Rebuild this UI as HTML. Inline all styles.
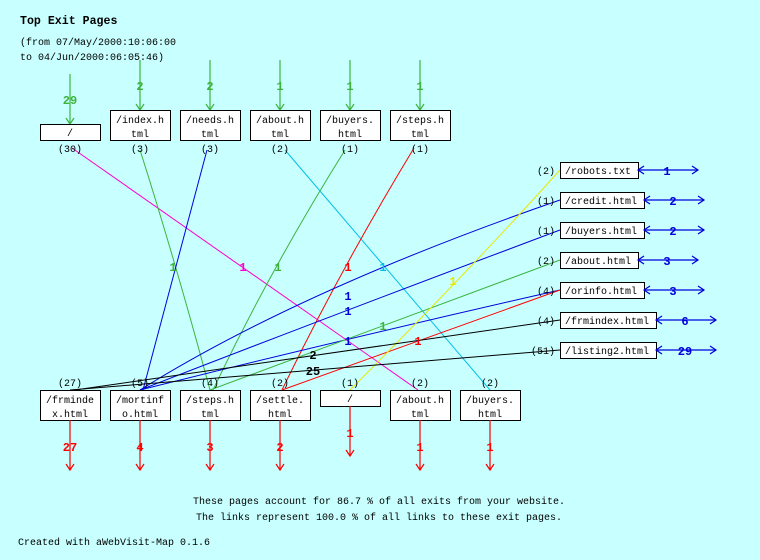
<!DOCTYPE html>
<html><head><meta charset="utf-8"><style>
html,body{margin:0;padding:0;background:#c8ffff}
svg{display:block}
text{font-family:"Liberation Mono","DejaVu Sans Mono",monospace;font-size:10px}
.b{font-weight:bold;font-size:12px}
.t{font-size:11.6px;font-weight:bold}
.box{fill:#fff;stroke:#000;stroke-width:1}
</style></head><body>
<svg width="760" height="560" xmlns="http://www.w3.org/2000/svg">
<rect width="760" height="560" fill="#c8ffff"/>
<text x="20" y="24" class="t">Top Exit Pages</text>
<text x="20" y="45">(from 07/May/2000:10:06:00</text>
<text x="20" y="60">to 04/Jun/2000:06:05:46)</text>

<g stroke="#3cb43c" fill="none" stroke-width="1.2">
<line x1="70" y1="74" x2="70" y2="124"/><polyline points="66,118 70,124 74,118"/>
<line x1="140" y1="60" x2="140" y2="110"/><polyline points="136,104 140,110 144,104"/>
<line x1="210" y1="60" x2="210" y2="110"/><polyline points="206,104 210,110 214,104"/>
<line x1="280" y1="60" x2="280" y2="110"/><polyline points="276,104 280,110 284,104"/>
<line x1="350" y1="60" x2="350" y2="110"/><polyline points="346,104 350,110 354,104"/>
<line x1="420" y1="60" x2="420" y2="110"/><polyline points="416,104 420,110 424,104"/>
</g>
<g fill="#3cb43c" text-anchor="middle">
<text x="70" y="104" class="b">29</text><text x="140" y="90" class="b">2</text><text x="210" y="90" class="b">2</text>
<text x="280" y="90" class="b">1</text><text x="350" y="90" class="b">1</text><text x="420" y="90" class="b">1</text>
</g>

<g fill="none" stroke-width="1">
<line x1="72" y1="148" x2="418" y2="390" stroke="#ff00cc"/>
<path d="M140,150 Q175,260 210,390" stroke="#3cb43c"/>
<path d="M207,150 Q175,270 143,390" stroke="#0000dd"/>
<line x1="285" y1="150" x2="490" y2="390" stroke="#00c0e8"/>
<path d="M345,150 Q270,270 213,390" stroke="#3cb43c"/>
<path d="M414,148 Q340,270 282,390" stroke="#ff0000"/>
<path d="M140,390 Q300,290 560,200" stroke="#0000dd"/>
<path d="M140,390 Q320,320 560,230" stroke="#0000dd"/>
<path d="M140,390 Q340,340 560,290" stroke="#0000dd"/>
<line x1="210" y1="390" x2="560" y2="260" stroke="#3cb43c"/>
<line x1="282" y1="390" x2="560" y2="290" stroke="#ff0000"/>
<path d="M350,390 Q470,270 560,170" stroke="#e8e800"/>
<line x1="75" y1="390" x2="560" y2="320" stroke="#000"/>
<line x1="70" y1="390" x2="560" y2="350" stroke="#000"/>
</g>
<g text-anchor="middle">
<text x="173" y="271" fill="#3cb43c" class="b">1</text>
<text x="243" y="271" fill="#ff00cc" class="b">1</text>
<text x="278" y="271" fill="#3cb43c" class="b">1</text>
<text x="348" y="271" fill="#ff0000" class="b">1</text>
<text x="383" y="271" fill="#00c0e8" class="b">1</text>
<text x="453" y="285" fill="#e8e800" class="b">1</text>
<text x="348" y="300" fill="#0000dd" class="b">1</text>
<text x="348" y="315" fill="#0000dd" class="b">1</text>
<text x="383" y="330" fill="#3cb43c" class="b">1</text>
<text x="348" y="345" fill="#0000dd" class="b">1</text>
<text x="418" y="345" fill="#ff0000" class="b">1</text>
<text x="313" y="359" fill="#000" class="b">2</text>
<text x="313" y="375" fill="#000" class="b">25</text>
</g>

<rect class="box" x="40.5" y="124.5" width="60" height="16"/>
<text x="70" y="136" text-anchor="middle">/</text>
<g text-anchor="middle">
<rect class="box" x="110.5" y="110.5" width="60" height="30"/><text x="140" y="123">/index.h</text><text x="140" y="137">tml</text>
<rect class="box" x="180.5" y="110.5" width="60" height="30"/><text x="210" y="123">/needs.h</text><text x="210" y="137">tml</text>
<rect class="box" x="250.5" y="110.5" width="60" height="30"/><text x="280" y="123">/about.h</text><text x="280" y="137">tml</text>
<rect class="box" x="320.5" y="110.5" width="60" height="30"/><text x="350" y="123">/buyers.</text><text x="350" y="137">html</text>
<rect class="box" x="390.5" y="110.5" width="60" height="30"/><text x="420" y="123">/steps.h</text><text x="420" y="137">tml</text>
<text x="70" y="152">(30)</text><text x="140" y="152">(3)</text><text x="210" y="152">(3)</text>
<text x="280" y="152">(2)</text><text x="350" y="152">(1)</text><text x="420" y="152">(1)</text>
</g>

<g text-anchor="middle">
<text x="70" y="386">(27)</text><text x="140" y="386">(5)</text><text x="210" y="386">(4)</text>
<text x="280" y="386">(2)</text><text x="350" y="386">(1)</text><text x="420" y="386">(2)</text><text x="490" y="386">(2)</text>
<rect class="box" x="40.5" y="390.5" width="60" height="30"/><text x="70" y="403">/frminde</text><text x="70" y="417">x.html</text>
<rect class="box" x="110.5" y="390.5" width="60" height="30"/><text x="140" y="403">/mortinf</text><text x="140" y="417">o.html</text>
<rect class="box" x="180.5" y="390.5" width="60" height="30"/><text x="210" y="403">/steps.h</text><text x="210" y="417">tml</text>
<rect class="box" x="250.5" y="390.5" width="60" height="30"/><text x="280" y="403">/settle.</text><text x="280" y="417">html</text>
<rect class="box" x="320.5" y="390.5" width="60" height="16"/><text x="350" y="402">/</text>
<rect class="box" x="390.5" y="390.5" width="60" height="30"/><text x="420" y="403">/about.h</text><text x="420" y="417">tml</text>
<rect class="box" x="460.5" y="390.5" width="60" height="30"/><text x="490" y="403">/buyers.</text><text x="490" y="417">html</text>
</g>
<g stroke="#ff0000" fill="none" stroke-width="1.2">
<line x1="70" y1="420" x2="70" y2="470"/><polyline points="66,464 70,470 74,464"/>
<line x1="140" y1="420" x2="140" y2="470"/><polyline points="136,464 140,470 144,464"/>
<line x1="210" y1="420" x2="210" y2="470"/><polyline points="206,464 210,470 214,464"/>
<line x1="280" y1="420" x2="280" y2="470"/><polyline points="276,464 280,470 284,464"/>
<line x1="350" y1="406" x2="350" y2="456"/><polyline points="346,450 350,456 354,450"/>
<line x1="420" y1="420" x2="420" y2="470"/><polyline points="416,464 420,470 424,464"/>
<line x1="490" y1="420" x2="490" y2="470"/><polyline points="486,464 490,470 494,464"/>
</g>
<g fill="#ff0000" text-anchor="middle">
<text x="70" y="451" class="b">27</text><text x="140" y="451" class="b">4</text><text x="210" y="451" class="b">3</text>
<text x="280" y="451" class="b">2</text><text x="350" y="437" class="b">1</text><text x="420" y="451" class="b">1</text><text x="490" y="451" class="b">1</text>
</g>

<g>
<rect class="box" x="560.5" y="162.5" width="78" height="16"/><text x="565" y="174">/robots.txt</text>
<rect class="box" x="560.5" y="192.5" width="84" height="16"/><text x="565" y="204">/credit.html</text>
<rect class="box" x="560.5" y="222.5" width="84" height="16"/><text x="565" y="234">/buyers.html</text>
<rect class="box" x="560.5" y="252.5" width="78" height="16"/><text x="565" y="264">/about.html</text>
<rect class="box" x="560.5" y="282.5" width="84" height="16"/><text x="565" y="294">/orinfo.html</text>
<rect class="box" x="560.5" y="312.5" width="96" height="16"/><text x="565" y="324">/frmindex.html</text>
<rect class="box" x="560.5" y="342.5" width="96" height="16"/><text x="565" y="354">/listing2.html</text>
</g>
<g text-anchor="end">
<text x="555" y="174">(2)</text><text x="555" y="204">(1)</text><text x="555" y="234">(1)</text>
<text x="555" y="264">(2)</text><text x="555" y="294">(4)</text><text x="555" y="324">(4)</text><text x="555" y="354">(51)</text>
</g>
<g stroke="#0000dd" fill="none" stroke-width="1.2">
<line x1="638" y1="170" x2="698" y2="170"/><polyline points="644,166 638,170 644,174"/><polyline points="692,166 698,170 692,174"/>
<line x1="644" y1="200" x2="704" y2="200"/><polyline points="650,196 644,200 650,204"/><polyline points="698,196 704,200 698,204"/>
<line x1="644" y1="230" x2="704" y2="230"/><polyline points="650,226 644,230 650,234"/><polyline points="698,226 704,230 698,234"/>
<line x1="638" y1="260" x2="698" y2="260"/><polyline points="644,256 638,260 644,264"/><polyline points="692,256 698,260 692,264"/>
<line x1="644" y1="290" x2="704" y2="290"/><polyline points="650,286 644,290 650,294"/><polyline points="698,286 704,290 698,294"/>
<line x1="656" y1="320" x2="716" y2="320"/><polyline points="662,316 656,320 662,324"/><polyline points="710,316 716,320 710,324"/>
<line x1="656" y1="350" x2="716" y2="350"/><polyline points="662,346 656,350 662,354"/><polyline points="710,346 716,350 710,354"/>
</g>
<g fill="#0000dd" text-anchor="middle">
<text x="667" y="175" class="b">1</text><text x="673" y="205" class="b">2</text><text x="673" y="235" class="b">2</text>
<text x="667" y="265" class="b">3</text><text x="673" y="295" class="b">3</text><text x="685" y="325" class="b">6</text><text x="685" y="355" class="b">29</text>
</g>

<text x="193" y="504">These pages account for 86.7 % of all exits from your website.</text>
<text x="196" y="520">The links represent 100.0 % of all links to these exit pages.</text>
<text x="18" y="545">Created with aWebVisit-Map 0.1.6</text>
</svg>
</body></html>
